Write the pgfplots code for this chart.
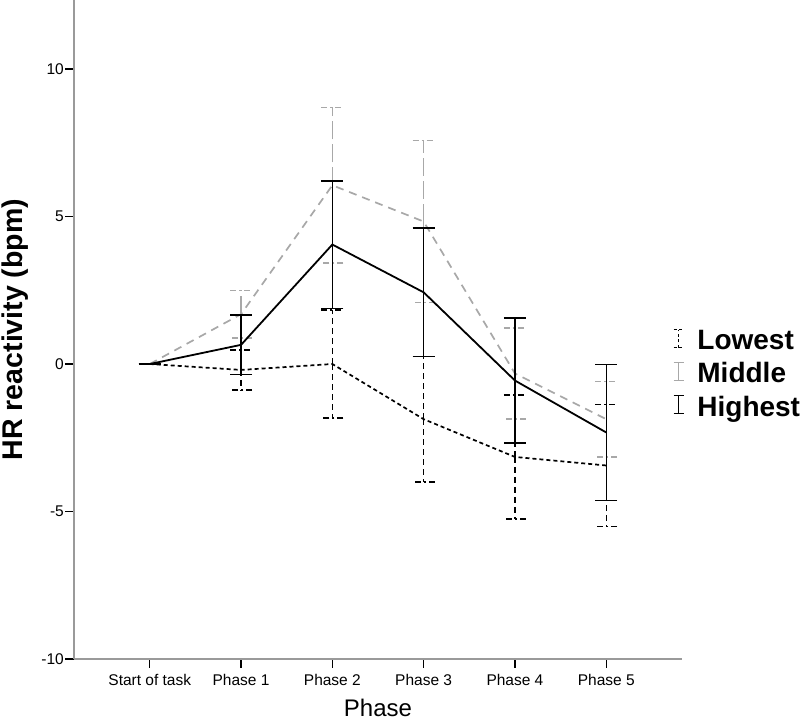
\documentclass[border=0pt]{standalone}
\usepackage{pgfplots}
\pgfplotsset{compat=1.18}
\usepackage{fontspec}
\setmainfont{Liberation Sans}
\definecolor{spine}{HTML}{9A9A9A}
\definecolor{midgray}{HTML}{A8A8A8}
\pgfplotsset{ebicon/.style={legend image code/.code={
   \draw[##1] (0pt,-7pt) -- (0pt,11pt);
   \draw[##1] (-5pt,-7pt) -- (5pt,-7pt);
   \draw[##1] (-5pt,11pt) -- (5pt,11pt);
}}}
\begin{document}
\begin{tikzpicture}[x=1pt,y=1pt]
\useasboundingbox (0,0) rectangle (800,721);
\begin{axis}[
 at={(74pt,62pt)}, anchor=south west,
 scale only axis, width=608pt, height=659pt,
 xmin=-0.83, xmax=5.83, ymin=-10, ymax=12.34,
 axis x line*=bottom, axis y line*=left,
 axis line style={spine, line width=1.8pt},
 xtick={0,1,2,3,4,5},
 xticklabels={Start of task, Phase 1, Phase 2, Phase 3, Phase 4, Phase 5},
 ytick={-10,-5,0,5,10},
 tick align=outside,
 major tick length=8.5pt,
 xtick style={black, line width=1.2pt},
 ytick style={black, line width=1.6pt},
 /pgf/number format/assume math mode=true,
 ticklabel style={font=\fontsize{15.5}{18}\selectfont},
 yticklabel style={inner sep=1.5pt},
 xticklabel style={inner sep=2pt, yshift=-5pt},
 xlabel={Phase},
 ylabel={HR reactivity (bpm)},
 xlabel style={font=\fontsize{24}{28}\selectfont, at={(axis description cs:0.5,-0.0865)}, anchor=base, inner sep=0pt},
 ylabel style={font=\bfseries\fontsize{28.5}{32}\selectfont, at={(axis description cs:-0.1184,0.5)}, anchor=north, rotate=0, inner sep=0pt},
 clip=false,
 legend style={at={(rel axis cs:0.985,0.502)}, anchor=north west, draw=none, fill=none, inner sep=0pt,
   font=\bfseries\fontsize{28}{32}\selectfont, row sep=7.5pt,
   /tikz/every odd column/.append style={column sep=11pt}},
 legend cell align=left,
]
\addlegendimage{ebicon, black, line width=1.3pt, dash pattern=on 3pt off 2.5pt}
\addlegendentry{Lowest}
\addlegendimage{ebicon, midgray, line width=1.3pt}
\addlegendentry{Middle}
\addlegendimage{ebicon, black, line width=1.3pt}
\addlegendentry{Highest}

% Lowest
\addplot[forget plot, black, line width=1.7pt, dash pattern=on 4pt off 3pt,
  error bars/.cd, y dir=both, y explicit,
  error bar style={black, line width=1.3pt, dash pattern=on 6pt off 4pt},
  error mark options={rotate=90, black, mark size=11pt, line width=1.3pt, dash pattern=on 6pt off 3pt on 2pt off 3pt}]
 coordinates {(0,0) +- (0,0) (1,-0.2) +- (0,0.68) (2,0.0) +- (0,1.83) (3,-1.87) +- (0,2.13) (4,-3.15) +- (0,2.1) (5,-3.44) +- (0,2.06)};
% Middle
\addplot[forget plot, midgray, line width=1.7pt, dash pattern=on 8pt off 6pt,
  error bars/.cd, y dir=both, y explicit,
  error bar style={midgray, line width=1.3pt, dash pattern=on 18pt off 5pt},
  error mark options={rotate=90, midgray, mark size=11pt, line width=1.3pt, dash pattern=on 6pt off 3pt on 2pt off 3pt}]
 coordinates {(0,0) +- (0,0) (1,1.69) +- (0,0.81) (2,6.06) +- (0,2.64) (3,4.83) +- (0,2.75) (4,-0.32) +- (0,1.54) (5,-1.87) +- (0,1.28)};
% Highest
\addplot[forget plot, black, line width=1.8pt,
  error bars/.cd, y dir=both, y explicit,
  error bar style={black, line width=1.4pt},
  error mark options={rotate=90, black, mark size=11pt, line width=1.4pt}]
 coordinates {(0,0) +- (0,0) (1,0.65) +- (0,1.01) (2,4.05) +- (0,2.16) (3,2.43) +- (0,2.18) (4,-0.56) +- (0,2.12) (5,-2.32) +- (0,2.3)};
\end{axis}
\end{tikzpicture}
\end{document}
